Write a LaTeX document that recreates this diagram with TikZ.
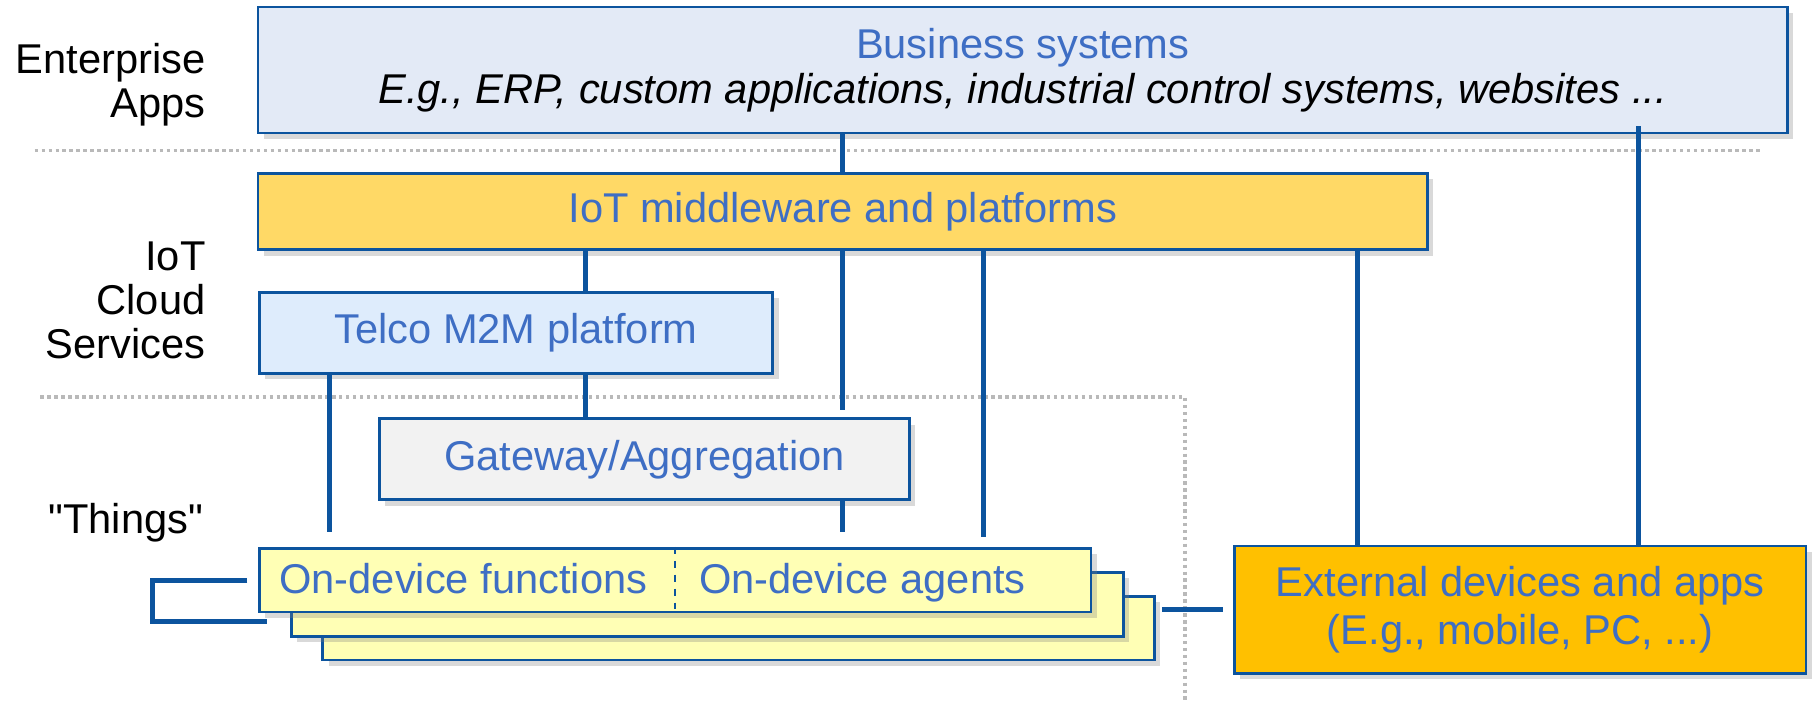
\documentclass[tikz,border=0pt]{standalone}
\usepackage{fontspec}
\setmainfont{Liberation Sans}[Ligatures=TeXOff]
\usepackage{tikz}
\usetikzlibrary{shadows,positioning,calc}
\usepackage{xcolor}

\definecolor{frameblue}{RGB}{12,84,158}
\definecolor{textblue}{RGB}{62,110,196}
\definecolor{busfill}{RGB}{227,234,246}
\definecolor{iotfill}{RGB}{255,217,102}
\definecolor{telfill}{RGB}{222,236,252}
\definecolor{gwfill}{RGB}{242,242,242}
\definecolor{devfill}{RGB}{255,255,181}
\definecolor{extfill}{RGB}{255,192,0}
\definecolor{sepgrey}{RGB}{185,185,185}

\begin{document}
\begin{tikzpicture}[
x=0.5pt, y=-0.5pt,
box/.style={
  draw=frameblue,
  line width=1.2pt,
  inner sep=0pt,
  text=textblue,
  align=center,
  font=\fontsize{18}{20.5}\selectfont,
  drop shadow={shadow xshift=2.5pt,shadow yshift=-2.5pt,opacity=0.3}
},
layer/.style={
  align=right,
  inner sep=0pt,
  font=\fontsize{18}{19}\selectfont
},
inbox/.style={
  inner sep=0pt,
  text=textblue,
  font=\fontsize{18}{20.5}\selectfont
},
link/.style={
  draw=frameblue,
  line width=2.2pt
},
sep/.style={
  draw=sepgrey,
  line width=1.6pt,
  dash pattern=on 1.5pt off 1.5pt
}
]
\useasboundingbox (0,0) rectangle (1568,608);

% layer separators
\draw[sep] (30,130) -- (1524,130);
\draw[sep] (35,343) -- (1024,343) -- (1024,608);

% layer labels
\node[layer,anchor=east] (ent) at (178,73) {Enterprise\\Apps};
\node[layer,anchor=east] (cloud) at (178,260) {IoT\\Cloud\\Services};
\node[layer,anchor=base east] (things) at (176,461) {"Things"};

% boxes
\node[box,fill=busfill,minimum width=661pt,minimum height=54.5pt] 
  (bus) at (884,60.5) {Business systems\\[-1pt]
  \textcolor{black}{\itshape E.g., ERP, custom applications, industrial control systems, websites ...}};
\node[box,fill=iotfill,minimum width=505.5pt,minimum height=33pt] 
  (iot) at (728.5,183) {IoT middleware and platforms};
\node[box,fill=telfill,minimum width=222pt,minimum height=35pt] 
  (tel) at (446,288) {Telco M2M platform};
\node[box,fill=gwfill,minimum width=229pt,minimum height=35pt] 
  (gw) at (557,397) {Gateway/Aggregation};

\node[box,fill=devfill,minimum width=359.5pt,minimum height=27.5pt] 
  (dev3) at (638.5,543) {};
\node[box,fill=devfill,minimum width=359.5pt,minimum height=27.5pt] 
  (dev2) at (611.5,522.5) {};
\node[box,fill=devfill,minimum width=359.5pt,minimum height=27.5pt] 
  (dev1) at (583.5,501.5) {};
\draw[frameblue,line width=0.8pt,dashed] (dev1.north) -- (dev1.south);
\node[inbox,anchor=base west] (funcs) at (241,513) {On-device functions};
\node[inbox,anchor=base west] (agents) at (604,513) {On-device agents};

\node[box,fill=extfill,minimum width=247pt,minimum height=55pt] 
  (ext) at (1314,527) {External devices and apps\\(E.g., mobile, PC, ...)};

% connector columns
\coordinate (c1) at (285,0);
\coordinate (c2) at (506,0);
\coordinate (c3) at (728,0);
\coordinate (c4) at (850,0);
\coordinate (c5) at (1173,0);
\coordinate (c6) at (1416,0);

\draw[link] (iot.north) -- (iot.north |- bus.south);
\draw[link] (ext.north -| c6) -- ([yshift=3.5pt]bus.south -| c6);
\draw[link] (iot.south -| c2) -- (tel.north -| c2);
\draw[link] (iot.south -| c3) -- ([yshift=3pt]gw.north -| c3);
\draw[link] (iot.south -| c4) -- ([yshift=4.5pt]dev1.north -| c4);
\draw[link] (iot.south -| c5) -- (ext.north -| c5);
\draw[link] (tel.south -| c2) -- (gw.north -| c2);
\draw[link] (tel.south -| c1) -- ([yshift=6.5pt]dev1.north -| c1);
\draw[link] (gw.south -| c3) -- ([yshift=6.5pt]dev1.north -| c3);
\draw[link] ([xshift=-4.5pt]ext.west) -- ([xshift=2.5pt]ext.west -| dev3.east);
\draw[link] ([xshift=-4.5pt]dev1.west) -- ++(-82,0) 
  |- ([xshift=-10pt,yshift=-7.25pt]dev2.west);
\end{tikzpicture}
\end{document}
